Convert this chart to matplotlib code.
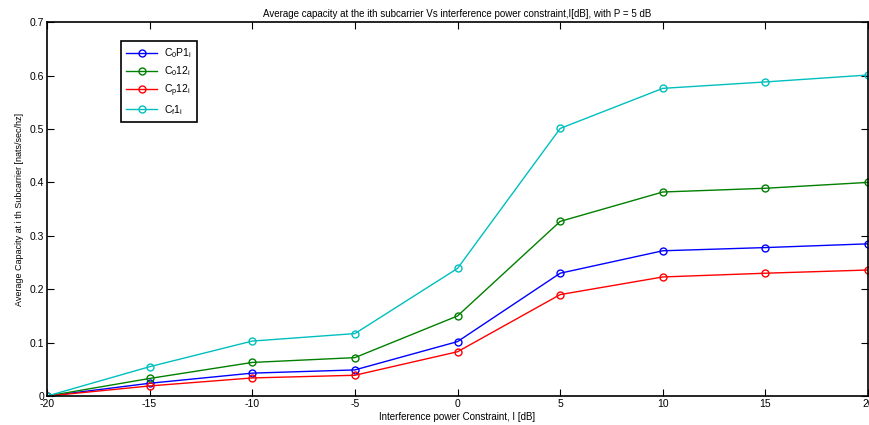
import matplotlib
matplotlib.use('Agg')
import matplotlib.pyplot as plt
import numpy as np

# data
I_dB = [-20, -15, -10, -5, 0, 5, 10, 15, 20]
c0p1 = [0, 0.024, 0.043, 0.049, 0.102, 0.230, 0.272, 0.278, 0.285]
c012 = [0, 0.033, 0.063, 0.072, 0.150, 0.327, 0.382, 0.389, 0.400]
cp12 = [0, 0.019, 0.034, 0.039, 0.083, 0.190, 0.223, 0.230, 0.236]
cf1 = [0, 0.055, 0.103, 0.117, 0.239, 0.501, 0.576, 0.588, 0.601]

labels = [r'C$_0$P1$_i$', r'C$_0$12$_i$', r'C$_p$12$_i$', r'C$_f$1$_i$']
colors = ['#0000ff', '#008000', '#ff0000', '#00bfbf']

plt.rcParams['font.family'] = ['Liberation Sans', 'DejaVu Sans']
plt.rcParams['mathtext.fontset'] = 'custom'
plt.rcParams['mathtext.rm'] = 'Liberation Sans'
plt.rcParams['mathtext.it'] = 'Liberation Sans'
plt.rcParams['axes.unicode_minus'] = False

fig = plt.figure(figsize=(8.69, 4.25), dpi=100)
ax = fig.add_axes([0.054, 0.068, 0.945, 0.880])

for y, lab, c in zip([c0p1, c012, cp12, cf1], labels, colors):
    ax.plot(I_dB, y, color=c, marker='o', markersize=5, markerfacecolor='none',
            markeredgewidth=1, linewidth=1, label=lab)

ax.set_xlim(-20, 20)
ax.set_ylim(0, 0.7)
ax.set_xticks(I_dB)
ax.set_yticks(np.arange(0, 0.71, 0.1))
ax.set_yticklabels(['0', '0.1', '0.2', '0.3', '0.4', '0.5', '0.6', '0.7'])
ax.tick_params(direction='in', top=True, right=True, labelsize=7.5, length=5, pad=2)
for s in ax.spines.values():
    s.set_linewidth(1.2)

ax.set_title('Average capacity at the ith subcarrier Vs interference power constraint,I[dB], with P = 5 dB',
             fontsize=7, pad=4)
ax.set_xlabel('Interference power Constraint, I [dB]', fontsize=7, labelpad=2)
ax.set_ylabel('Average Capacity at i th Subcarrier [nats/sec/hz]', fontsize=6.5, labelpad=4)

leg = ax.legend(loc='upper left', bbox_to_anchor=(0.090, 0.949), borderaxespad=0,
                fontsize=7.5, fancybox=False, edgecolor='black', framealpha=1,
                handlelength=3.0, handletextpad=0.6, borderpad=0.5, labelspacing=0.4)
leg.get_frame().set_linewidth(1.2)

plt.savefig('out.png', dpi=100)
